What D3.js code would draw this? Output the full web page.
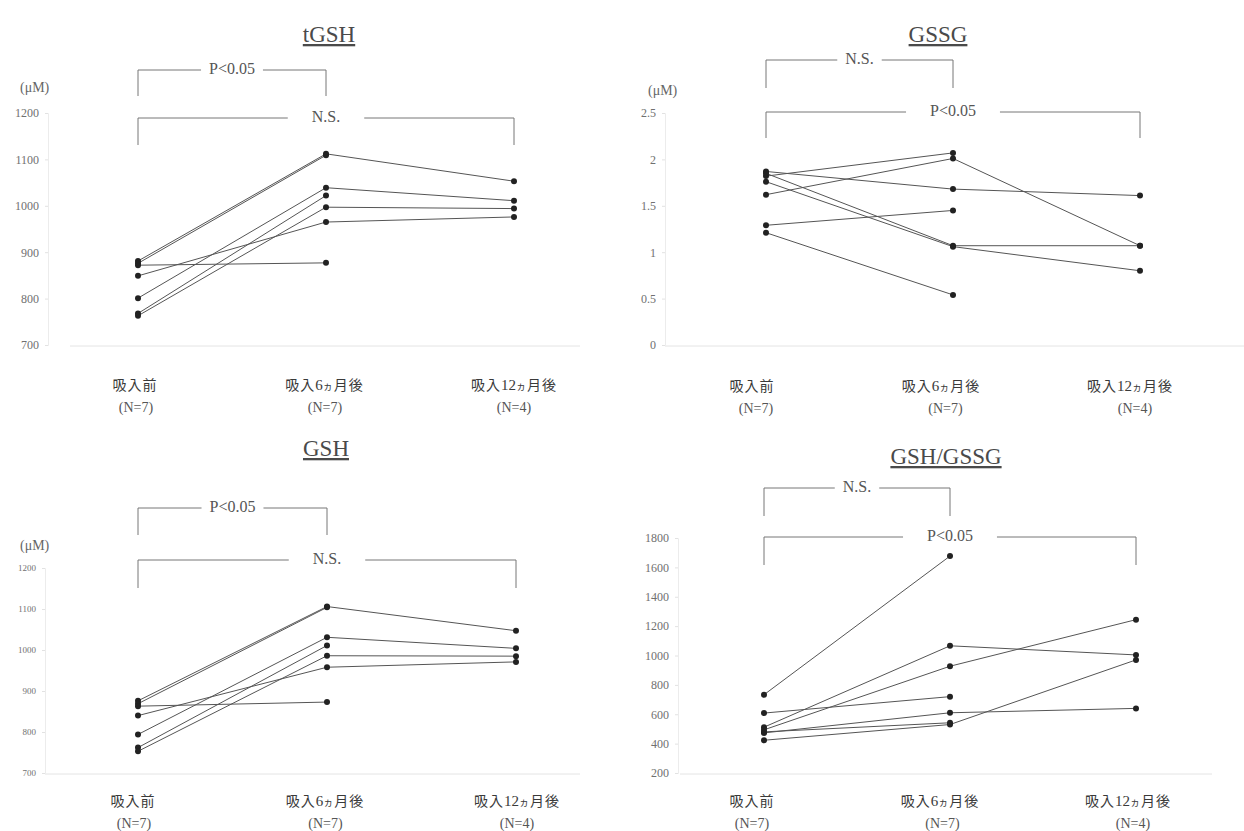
<!DOCTYPE html>
<html>
<head>
<meta charset="utf-8">
<script src="https://cdn.jsdelivr.net/npm/d3@7"></script>
<style>
  body { margin: 0; background: #fff; }
  svg { display: block; }
  .tick text { font-family: "Times New Roman", "Liberation Serif", serif; fill: #707070; }
  .tick line { stroke: #e2e2e2; }
  .domain { stroke: #ececec; }
</style>
</head>
<body>
<div id="chart"></div>
<script>
const SERIF = "'Times New Roman', 'Liberation Serif', serif";

// time points shared by all four panels
const timepoints = ["吸入前", "吸入6ヵ月後", "吸入12ヵ月後"];
const groupSizes = ["(N=7)", "(N=7)", "(N=4)"];

// one row per subject: [before, 6 months, 12 months] (null = not measured)
const tgshSeries = [
    [881, 1112, 1053],
    [876, 1109, null],
    [872, 877, null],
    [849, 965, 976],
    [801, 1039, 1011],
    [768, 1022, null],
    [763, 997, 994]
];
const gssgSeries = [
    [1.82, 2.07, null],
    [1.62, 2.01, 1.07],
    [1.87, 1.68, 1.61],
    [1.29, 1.45, null],
    [1.21, 0.54, null],
    [1.85, 1.07, 1.07],
    [1.76, 1.06, 0.80]
];
const gshSeries = [
    [876, 1106, 1047],
    [869, 1104, null],
    [863, 873, null],
    [840, 958, 971],
    [794, 1031, 1004],
    [762, 1011, null],
    [753, 986, 985]
];
const ratioSeries = [
    [733, 1677, null],
    [608, 720, null],
    [512, 1066, 1004],
    [494, 927, 1244],
    [473, 610, 640],
    [480, 542, null],
    [423, 530, 970]
];

const tgshTicks = [700, 800, 900, 1000, 1100, 1200];
const gssgTicks = [0, 0.5, 1, 1.5, 2, 2.5];
const gshTicks = [700, 800, 900, 1000, 1100, 1200];
const ratioTicks = [200, 400, 600, 800, 1000, 1200, 1400, 1600, 1800];

// significance brackets: [from index, to index, label]
const tgshBrackets = [[0, 1, "P<0.05"], [0, 2, "N.S."]];
const gssgBrackets = [[0, 1, "N.S."], [0, 2, "P<0.05"]];
const gshBrackets = [[0, 1, "P<0.05"], [0, 2, "N.S."]];
const ratioBrackets = [[0, 1, "N.S."], [0, 2, "P<0.05"]];

const W = 1244, H = 831;
const svg = d3.select("#chart").append("svg").attr("width", W).attr("height", H);

const panels = [
    { title: "tGSH", titleX: 329, titleY: 42, unit: "(μM)", unitX: 20, unitY: 92,
      series: tgshSeries, ticks: tgshTicks, brackets: tgshBrackets,
      yRange: [345, 113], xRange: [138, 514], labelRange: [135, 514], nRange: [136, 514],
      axisX: 48, tickFont: 12, base: [70, 580],
      bracketY: [[70, 96], [118, 145]], labelY: [390, 412] },
    { title: "GSSG", titleX: 938, titleY: 42, unit: "(μM)", unitX: 648, unitY: 95,
      series: gssgSeries, ticks: gssgTicks, brackets: gssgBrackets,
      yRange: [345, 113], xRange: [766, 1140], labelRange: [752, 1130], nRange: [756, 1135],
      axisX: 665, tickFont: 12, base: [665, 1244],
      bracketY: [[60, 88], [112, 138]], labelY: [391, 413] },
    { title: "GSH", titleX: 326, titleY: 456, unit: "(μM)", unitX: 20, unitY: 550,
      series: gshSeries, ticks: gshTicks, brackets: gshBrackets,
      yRange: [773, 568], xRange: [138, 516], labelRange: [133, 517], nRange: [134, 517],
      axisX: 45, tickFont: 9, base: [45, 580],
      bracketY: [[508, 535], [560, 588]], labelY: [806, 828] },
    { title: "GSH/GSSG", titleX: 946, titleY: 464, unit: null,
      series: ratioSeries, ticks: ratioTicks, brackets: ratioBrackets,
      yRange: [773, 538], xRange: [764, 1136], labelRange: [752, 1128], nRange: [752, 1133],
      axisX: 678, tickFont: 12, base: [680, 1212],
      bracketY: [[488, 516], [537, 565]], labelY: [806, 828] }
];

panels.forEach(drawPanel);

function drawPanel(p) {
    const g = svg.append("g");

    const x = d3.scalePoint().domain(d3.range(timepoints.length)).range(p.xRange);
    const xLab = d3.scalePoint().domain(d3.range(timepoints.length)).range(p.labelRange);
    const xN = d3.scalePoint().domain(d3.range(timepoints.length)).range(p.nRange);
    const y = d3.scaleLinear()
        .domain([p.ticks[0], p.ticks[p.ticks.length - 1]])
        .range(p.yRange);

    // title, underlined
    g.append("text")
        .attr("x", p.titleX).attr("y", p.titleY)
        .attr("text-anchor", "middle")
        .style("font-family", SERIF)
        .style("font-size", "23px")
        .style("fill", "#4a4a4a")
        .style("text-decoration", "underline")
        .text(p.title);

    if (p.unit) {
        g.append("text")
            .attr("x", p.unitX).attr("y", p.unitY)
            .style("font-family", SERIF)
            .style("font-size", "14px")
            .style("fill", "#666")
            .text(p.unit);
    }

    // faint baseline
    g.append("line")
        .attr("x1", p.base[0]).attr("x2", p.base[1])
        .attr("y1", y(p.ticks[0]) + 1).attr("y2", y(p.ticks[0]) + 1)
        .attr("stroke", "#e4e4e4");

    // y axis
    g.append("g")
        .attr("transform", `translate(${p.axisX},0)`)
        .call(d3.axisLeft(y).tickValues(p.ticks).tickSize(3).tickPadding(6)
            .tickFormat(d => String(d)))
        .call(a => a.selectAll(".tick text").style("font-size", p.tickFont + "px"));

    // brackets
    p.brackets.forEach((b, i) => {
        const [y0, y1] = p.bracketY[i];
        const xa = x(b[0]), xb = x(b[1]);
        const cx = (xa + xb) / 2;
        const t = g.append("text")
            .attr("x", cx).attr("y", y0)
            .attr("text-anchor", "middle")
            .attr("dominant-baseline", "middle")
            .style("font-family", SERIF)
            .style("font-size", "16px")
            .style("fill", "#555")
            .text(b[2]);
        const half = t.node().getComputedTextLength() / 2 + (b[1] - b[0] > 1 ? 24 : 8);
        g.append("path")
            .attr("d", `M${xa},${y1}V${y0}H${cx - half}M${cx + half},${y0}H${xb}V${y1}`)
            .attr("fill", "none")
            .attr("stroke", "#777")
            .attr("stroke-width", 1);
    });

    // subject lines
    const line = d3.line()
        .defined(d => d != null)
        .x((d, i) => x(i))
        .y(d => y(d));
    g.selectAll(".subj")
        .data(p.series)
        .join("path")
        .attr("class", "subj")
        .attr("d", d => line(d))
        .attr("fill", "none")
        .attr("stroke", "#555")
        .attr("stroke-width", 1);

    // dots
    const pts = [];
    p.series.forEach(s => s.forEach((v, i) => { if (v != null) pts.push([i, v]); }));
    g.selectAll(".dot")
        .data(pts)
        .join("circle")
        .attr("class", "dot")
        .attr("cx", d => x(d[0]))
        .attr("cy", d => y(d[1]))
        .attr("r", 3)
        .attr("fill", "#222");

    // category labels
    const lab = g.selectAll(".cat")
        .data(timepoints)
        .join("text")
        .attr("class", "cat")
        .attr("x", (d, i) => xLab(i))
        .attr("y", p.labelY[0])
        .attr("text-anchor", "middle")
        .style("font-family", "'Noto Sans CJK JP', sans-serif")
        .style("font-size", "14px")
        .style("letter-spacing", "1px")
        .style("fill", "#3a3a3a");
    lab.each(function(d) {
        const el = d3.select(this);
        const m = d.match(/^(吸入)(\d*)(ヵ?)(.*)$/);
        el.append("tspan").text(m[1]);
        if (m[2]) {
            el.append("tspan").style("font-family", SERIF)
                .style("letter-spacing", "0px").style("font-size", "15px").text(m[2]);
        }
        if (m[3]) el.append("tspan").style("font-size", "10px").text(m[3]);
        el.append("tspan").text(m[4]);
    });

    g.selectAll(".n")
        .data(groupSizes)
        .join("text")
        .attr("class", "n")
        .attr("x", (d, i) => xN(i))
        .attr("y", p.labelY[1])
        .attr("text-anchor", "middle")
        .style("font-family", SERIF)
        .style("font-size", "14px")
        .style("fill", "#555")
        .text(d => d);
}
</script>
</body>
</html>
